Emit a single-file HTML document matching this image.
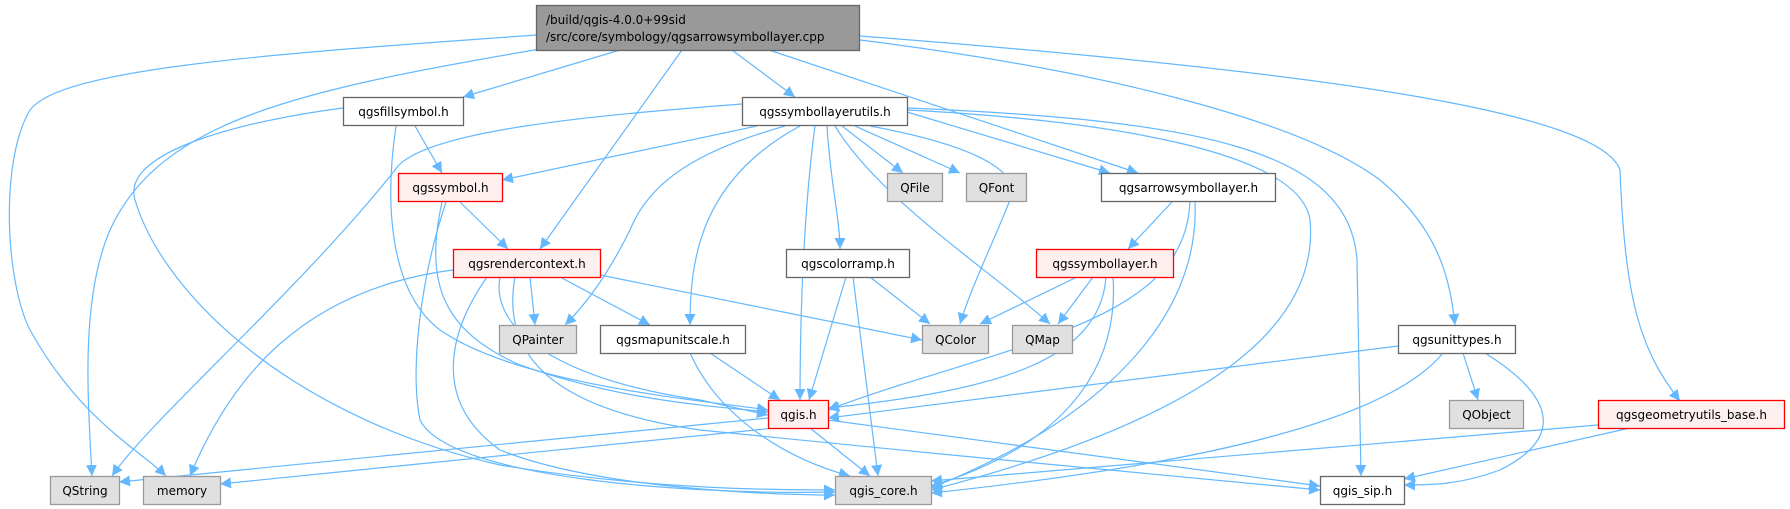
<!DOCTYPE html>
<html><head><meta charset="utf-8"><style>
html,body{margin:0;padding:0;background:#fff;}
svg{display:block;}
text{font-family:"DejaVu Sans","Liberation Sans",sans-serif;font-size:12px;fill:#000;}
.e{fill:none;stroke:#63b8ff;stroke-width:1.2;}
.w{fill:#fff;stroke:#666;stroke-width:1.3;}
.r{fill:#fff0f0;stroke:#f00;stroke-width:1.3;}
.g{fill:#e0e0e0;stroke:#999;stroke-width:1.3;}
</style></head><body>
<svg width="1790" height="509" viewBox="0 0 1790 509" xmlns="http://www.w3.org/2000/svg">
<defs><marker id="a" viewBox="0 0 10 10" refX="10" refY="5" markerWidth="11" markerHeight="11" markerUnits="userSpaceOnUse" orient="auto"><path d="M0,0 L10,5 L0,10 z" fill="#63b8ff"/></marker></defs>
<g class="e" marker-end="url(#a)">
<path d="M537,35 C250,55 60,70 30,110 C0,160 5,280 30,330 C80,420 140,450 166,476"/>
<path d="M540,49 C300,90 160,120 110,230 C80,300 88,400 92,476"/>
<path d="M620,50 L463,97"/>
<path d="M682,50 L540,249"/>
<path d="M732,50 L795,97"/>
<path d="M769,50 L1138,173"/>
<path d="M860,40 C1100,70 1300,120 1380,180 C1440,230 1450,280 1455,325"/>
<path d="M860,36 C1300,70 1600,110 1620,170 C1625,300 1640,350 1680,401"/>
<path d="M415,126 L442,173"/>
<path d="M396,126 C385,200 388,290 440,330 C520,385 700,400 768,410"/>
<path d="M343,108 C250,120 120,150 135,200 C165,300 300,420 500,465 C650,490 780,490 835,490"/>
<path d="M742,104 C600,115 420,130 395,170 C300,290 150,420 112,476"/>
<path d="M757,126 L502,180"/>
<path d="M785,126 C700,150 650,180 630,230 C610,270 590,300 565,325"/>
<path d="M800,126 C700,180 690,260 690,325"/>
<path d="M815,126 C805,200 800,300 800,400"/>
<path d="M827,126 C830,180 840,220 840,249"/>
<path d="M842,126 L903,173"/>
<path d="M855,126 L960,173"/>
<path d="M835,126 C880,200 990,270 1050,324"/>
<path d="M870,126 C1000,150 1020,180 1010,200 C990,250 970,290 960,324"/>
<path d="M907,112 L1110,173"/>
<path d="M907,110 C1100,120 1300,150 1310,220 C1320,330 1200,420 931,490"/>
<path d="M907,108 C1200,120 1350,150 1357,260 L1361,476"/>
<path d="M460,202 L508,249"/>
<path d="M442,202 C425,280 440,330 520,365 C620,400 700,405 768,412"/>
<path d="M446,202 C420,280 410,370 420,420 C450,480 700,495 835,492"/>
<path d="M1172,202 L1128,249"/>
<path d="M1190,202 C1185,300 1080,330 900,385 C860,398 840,405 828,410"/>
<path d="M1195,202 C1200,320 1100,420 931,488"/>
<path d="M453,270 C300,290 230,380 190,476"/>
<path d="M530,277 L535,325"/>
<path d="M560,277 L650,325"/>
<path d="M600,275 L922,340"/>
<path d="M500,277 C490,330 560,380 700,400 L768,415"/>
<path d="M487,277 C450,330 430,400 500,450 C600,490 780,495 835,495"/>
<path d="M515,277 C500,360 560,410 700,430 C900,450 1200,480 1320,490"/>
<path d="M846,277 L809,400"/>
<path d="M853,277 L878,476"/>
<path d="M870,277 L930,324"/>
<path d="M1077,277 L980,324"/>
<path d="M1093,277 L1058,324"/>
<path d="M1106,277 C1100,360 1000,390 828,408"/>
<path d="M1113,277 C1120,380 1050,450 931,486"/>
<path d="M710,353 L780,400"/>
<path d="M690,353 C720,420 790,460 850,476"/>
<path d="M1398,346 L828,418"/>
<path d="M1443,353 C1380,430 1150,470 931,493"/>
<path d="M1463,353 L1478,400"/>
<path d="M1485,353 C1560,400 1560,440 1500,470 C1460,485 1430,485 1404,485"/>
<path d="M1598,425 L931,481"/>
<path d="M1630,428 L1404,479"/>
<path d="M768,418 L119,482"/>
<path d="M775,428 L220,484"/>
<path d="M810,428 L870,476"/>
<path d="M828,420 L1320,486"/>
</g>
<rect class="g" x="536.5" y="5.5" width="323" height="45" style="fill:#999;stroke:#666"/>
<text x="546" y="24">/build/qgis-4.0.0+99sid</text>
<text x="546" y="41">/src/core/symbology/qgsarrowsymbollayer.cpp</text>
<g text-anchor="middle">
<rect class="w" x="343.5" y="97.5" width="120" height="28"/><text x="403.5" y="116">qgsfillsymbol.h</text>
<rect class="w" x="742.5" y="97.5" width="165" height="28"/><text x="825" y="116">qgssymbollayerutils.h</text>
<rect class="r" x="398.5" y="173.5" width="104" height="28"/><text x="450.5" y="192">qgssymbol.h</text>
<rect class="g" x="887.5" y="173.5" width="55" height="28"/><text x="915" y="192">QFile</text>
<rect class="g" x="966.5" y="173.5" width="60" height="28"/><text x="996.5" y="192">QFont</text>
<rect class="w" x="1101.5" y="173.5" width="174" height="28"/><text x="1188.5" y="192">qgsarrowsymbollayer.h</text>
<rect class="r" x="453.5" y="249.5" width="147" height="28"/><text x="527" y="268">qgsrendercontext.h</text>
<rect class="w" x="786.5" y="249.5" width="123" height="28"/><text x="848" y="268">qgscolorramp.h</text>
<rect class="r" x="1036.5" y="249.5" width="137" height="28"/><text x="1105" y="268">qgssymbollayer.h</text>
<rect class="g" x="499.5" y="325.5" width="77" height="28"/><text x="538" y="344">QPainter</text>
<rect class="w" x="600.5" y="325.5" width="145" height="28"/><text x="673" y="344">qgsmapunitscale.h</text>
<rect class="g" x="922.5" y="325.5" width="66" height="28"/><text x="955.5" y="344">QColor</text>
<rect class="g" x="1012.5" y="325.5" width="60" height="28"/><text x="1042.5" y="344">QMap</text>
<rect class="w" x="1398.5" y="325.5" width="117" height="28"/><text x="1457" y="344">qgsunittypes.h</text>
<rect class="r" x="768.5" y="400.5" width="60" height="28"/><text x="798.5" y="419">qgis.h</text>
<rect class="g" x="1449.5" y="400.5" width="74" height="28"/><text x="1486.5" y="419">QObject</text>
<rect class="r" x="1598.5" y="400.5" width="186" height="28"/><text x="1691.5" y="419">qgsgeometryutils_base.h</text>
<rect class="g" x="50.5" y="476.5" width="69" height="28"/><text x="85" y="495">QString</text>
<rect class="g" x="143.5" y="476.5" width="77" height="28"/><text x="182" y="495">memory</text>
<rect class="g" x="835.5" y="476.5" width="96" height="28"/><text x="883.5" y="495">qgis_core.h</text>
<rect class="w" x="1320.5" y="476.5" width="84" height="28"/><text x="1362.5" y="495">qgis_sip.h</text>
</g>
</svg>
</body></html>
